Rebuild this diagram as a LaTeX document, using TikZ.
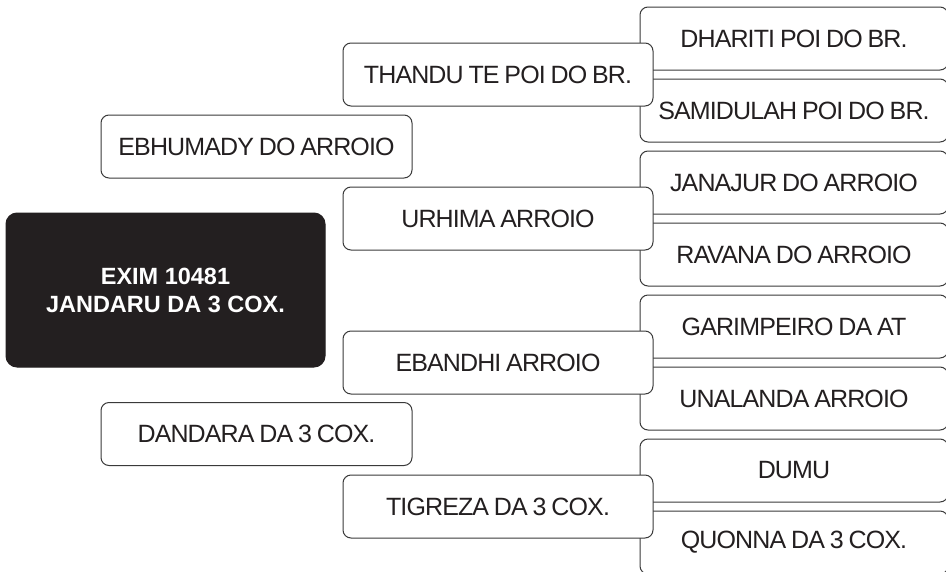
\documentclass[tikz,border=0pt]{standalone}
\usepackage{fontspec}
\setmainfont{Liberation Sans}[LetterSpace=-3.5,WordSpace=0.8]
\newfontfamily\headfont{Liberation Sans}
\usepackage{xcolor}
\usepackage{tikz}
\usetikzlibrary{arrows.meta,positioning}
\definecolor{ink}{HTML}{231F20}
\definecolor{edge}{HTML}{3A3A3A}

\begin{document}
\begin{tikzpicture}[x=1pt,y=-1pt,
  box/.style={draw=edge,line width=1pt,rounded corners=8pt,fill=white,text=ink,align=center,
    minimum width=310pt,minimum height=63pt,inner sep=0pt,outer sep=0pt,font=\fontsize{25}{28}\selectfont},
  rbox/.style={box,minimum width=308pt},
  head/.style={box,fill=ink,draw=ink,text=white,rounded corners=11pt,minimum width=319pt,minimum height=154pt,
    font=\headfont\fontsize{23.5}{28}\selectfont\bfseries}]
\useasboundingbox (0,0) rectangle (946,571);
% right column, drawn first so the middle boxes cover their left ends
\node[rbox] (g1a) at (794,38.5) {DHARITI POI DO BR.};
\node[rbox] (g1b) at (794,110.5) {SAMIDULAH POI DO BR.};
\node[rbox] (g2a) at (794,182.5) {JANAJUR DO ARROIO};
\node[rbox] (g2b) at (794,254.5) {RAVANA DO ARROIO};
\node[rbox] (g3a) at (794,326.5) {GARIMPEIRO DA AT};
\node[rbox] (g3b) at (794,398.5) {UNALANDA ARROIO};
\node[rbox] (g4a) at (794,470.5) {DUMU};
\node[rbox] (g4b) at (794,542.5) {QUONNA DA 3 COX.};
% middle column
\node[box] (g1) at (498,74.5) {THANDU TE POI DO BR.};
\node[box] (g2) at (498,218.5) {URHIMA ARROIO};
\node[box] (g3) at (498,362.5) {EBANDHI ARROIO};
\node[box] (g4) at (498,506.5) {TIGREZA DA 3 COX.};
% left column
\node[box,minimum width=311pt] (eb) at (256.5,146.5) {EBHUMADY DO ARROIO};
\node[head] (hd) at (165.5,290) {EXIM 10481\\JANDARU DA 3 COX.};
\node[box,minimum width=311pt] (dd) at (256.5,434) {DANDARA DA 3 COX.};
\end{tikzpicture}
\end{document}
